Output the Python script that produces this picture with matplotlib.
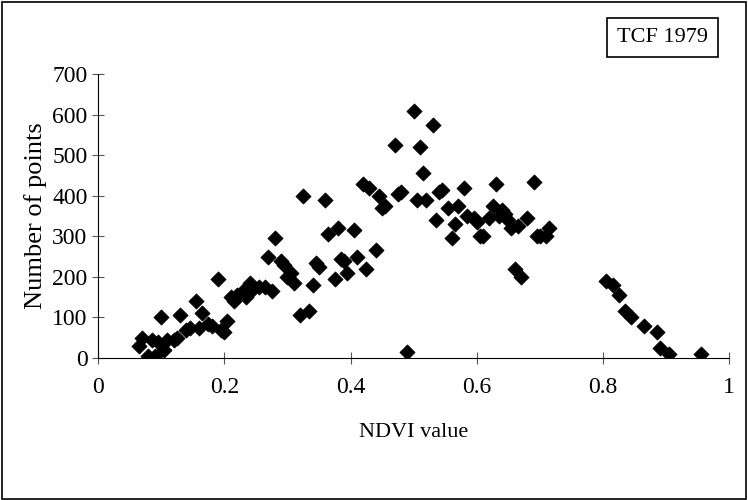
import matplotlib
matplotlib.use("Agg")
import matplotlib.pyplot as plt
from matplotlib.patches import Rectangle

plt.rcParams['font.family'] = ['Liberation Serif', 'DejaVu Serif']

ndvi = [0.065, 0.07, 0.08, 0.085, 0.09, 0.095, 0.1, 0.105, 0.11, 0.12, 0.125, 0.13, 0.14, 0.145,
        0.155, 0.16, 0.165, 0.175, 0.18, 0.19, 0.195, 0.2, 0.205, 0.21, 0.215, 0.22, 0.23, 0.235,
        0.24, 0.245, 0.255, 0.265, 0.27, 0.275, 0.28, 0.29, 0.295, 0.3, 0.305, 0.31, 0.32, 0.325,
        0.335, 0.34, 0.345, 0.35, 0.36, 0.365, 0.375, 0.38, 0.385, 0.39, 0.395, 0.405, 0.41, 0.42,
        0.425, 0.43, 0.44, 0.445, 0.45, 0.455, 0.47, 0.475, 0.48, 0.49, 0.5, 0.505, 0.51, 0.515,
        0.52, 0.53, 0.535, 0.54, 0.545, 0.555, 0.56, 0.565, 0.57, 0.58, 0.585, 0.595, 0.6, 0.605,
        0.61, 0.62, 0.625, 0.63, 0.635, 0.64, 0.645, 0.65, 0.655, 0.66, 0.665, 0.67, 0.68, 0.69,
        0.695, 0.7, 0.71, 0.715, 0.805, 0.815, 0.825, 0.835, 0.845, 0.865, 0.885, 0.89, 0.905, 0.955]
counts = [30, 50, 5, 45, 5, 40, 100, 20, 45, 45, 50, 105, 70, 75,
          140, 75, 110, 85, 80, 195, 70, 65, 90, 150, 140, 155, 165, 150,
          185, 170, 175, 175, 250, 165, 295, 240, 230, 200, 210, 185, 105, 400,
          115, 180, 235, 225, 390, 305, 195, 320, 245, 240, 210, 315, 250, 430,
          220, 420, 265, 400, 370, 375, 525, 405, 410, 15, 610, 390, 520, 455,
          390, 575, 340, 410, 415, 370, 295, 330, 375, 420, 350, 345, 335, 300,
          300, 345, 375, 430, 350, 365, 355, 340, 320, 220, 325, 200, 345, 435,
          300, 300, 300, 320, 190, 180, 155, 115, 100, 80, 65, 25, 10, 10]

fig = plt.figure(figsize=(7.48, 5.0), dpi=100)
fig.patches.append(Rectangle((0.003, 0.003), 0.994, 0.994, transform=fig.transFigure,
                             fill=False, edgecolor='black', linewidth=1.2))
ax = fig.add_axes([0.131, 0.284, 0.844, 0.568])
ax.scatter(ndvi, counts, marker='D', s=60, color='black', edgecolors='black', linewidths=0.5, zorder=3)

ax.set_xlim(0, 1)
ax.set_ylim(0, 700)
ax.set_xticks([0, 0.2, 0.4, 0.6, 0.8, 1])
ax.set_xticklabels(['0', '0.2', '0.4', '0.6', '0.8', '1'])
ax.set_yticks(range(0, 701, 100))
ax.spines['top'].set_visible(False)
ax.spines['right'].set_visible(False)
ax.tick_params(axis='both', labelsize=17, direction='inout', length=8, color='#555555')
ax.tick_params(axis='x', pad=10)
ax.set_xlabel('NDVI value', fontsize=16, labelpad=18)
ax.set_ylabel('Number of points', fontsize=19)

fig.text(0.886, 0.926, 'TCF 1979', fontsize=16, ha='center', va='center',
         bbox=dict(boxstyle='square,pad=0.45', facecolor='white', edgecolor='black', linewidth=1.2))

fig.savefig('out.png', dpi=100)
